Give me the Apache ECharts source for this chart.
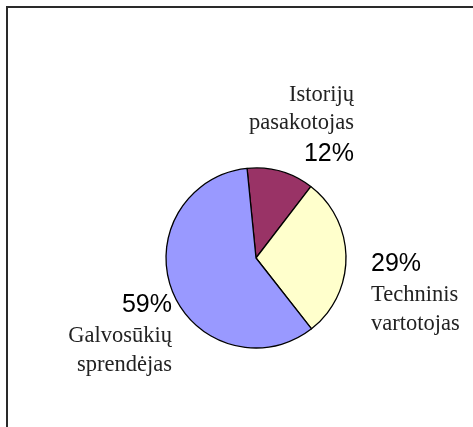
<!DOCTYPE html>
<html>
<head>
<meta charset="utf-8">
<script src="https://cdn.jsdelivr.net/npm/echarts@6/dist/echarts.min.js"></script>
<style>
    html, body { margin: 0; padding: 0; background: #ffffff; }
    #chart { width: 473px; height: 427px; }
</style>
</head>
<body>
<div id="chart"></div>
<script>
    // slices, clockwise from the top
    var categories = ['Istorijų pasakotojas', 'Techninis vartotojas', 'Galvosūkių sprendėjas'];
    var shares = [12, 29, 59];
    var colors = ['#993366', '#ffffcc', '#9999ff'];

    // where each label block sits (x, y = anchor, align = text side)
    var labelSpots = [
        {x: 354, y: 126, align: 'right'},
        {x: 371, y: 292.5, align: 'left'},
        {x: 172, y: 333.5, align: 'right'}
    ];

    var chart = echarts.init(document.getElementById('chart'));

    var options = {
        animation: false,
        backgroundColor: '#ffffff',
        graphic: [
            {
                type: 'rect',
                shape: {x: 7, y: 7, width: 500, height: 460},
                style: {fill: 'none', stroke: '#2a2a2a', lineWidth: 2},
                silent: true
            }
        ],
        series: [
            {
                type: 'pie',
                center: [256, 258],
                radius: 90,
                startAngle: 95.7,
                clockwise: true,
                data: categories.map(function (name, i) {
                    return {name: name, value: shares[i], itemStyle: {color: colors[i]}};
                }),
                itemStyle: {
                    borderColor: '#000000',
                    borderWidth: 1.3
                },
                label: {
                    show: true,
                    position: 'outside',
                    overflow: 'none',
                    formatter: function (p) {
                        var words = p.name.split(' ');
                        var nameTxt = '{n|' + words[0] + '}\n{n|' + words[1] + '}';
                        var pctTxt = '{p|' + p.value + '%}';
                        return p.dataIndex === 0 ? nameTxt + '\n' + pctTxt : pctTxt + '\n' + nameTxt;
                    },
                    rich: {
                        n: {
                            fontFamily: 'Liberation Serif',
                            fontSize: 22.5,
                            lineHeight: 28.5,
                            color: '#222222'
                        },
                        p: {
                            fontFamily: 'Liberation Sans',
                            fontSize: 25,
                            lineHeight: 34,
                            color: '#000000'
                        }
                    }
                },
                labelLine: {show: false},
                labelLayout: function (params) {
                    var s = labelSpots[params.dataIndex];
                    return {x: s.x, y: s.y, align: s.align, verticalAlign: 'middle'};
                },
                emphasis: {disabled: true}
            }
        ]
    };

    chart.setOption(options);
</script>
</body>
</html>
